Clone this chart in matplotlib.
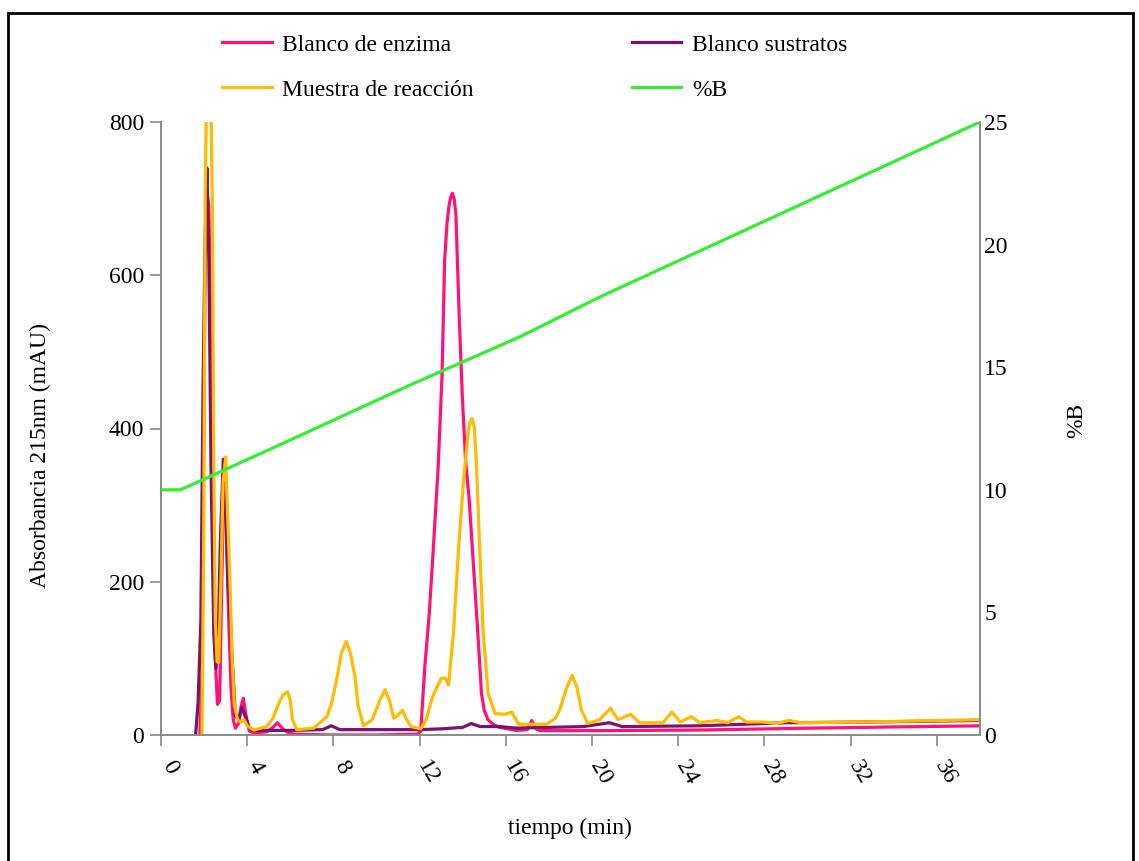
import matplotlib
matplotlib.use('Agg')
import matplotlib.pyplot as plt
import matplotlib.transforms as mtransforms
from matplotlib.patches import Rectangle

plt.rcParams['font.family'] = ['Liberation Serif', 'DejaVu Serif']

# Blanco de enzima (mAU vs min)
t_enz = [0, 1.8, 1.9, 1.97, 2.05, 2.15, 2.22, 2.3, 2.4, 2.5, 2.62, 2.72, 2.82, 2.92,
         3.02, 3.12, 3.25, 3.35, 3.45, 3.6, 3.72, 3.82, 3.95, 4.1, 4.3, 4.9, 5.2, 5.4,
         5.65, 5.9, 6.2, 8, 10, 11.9, 12.05, 12.24, 12.45, 12.63, 12.86, 13.04, 13.16,
         13.27, 13.36, 13.44, 13.52, 13.6, 13.68, 13.83, 13.98, 14.13, 14.3, 14.5, 14.7,
         14.87, 15.0, 15.17, 15.4, 15.7, 16.5, 17.0, 17.2, 17.4, 17.6, 20.3, 25, 29.6,
         34, 38]
a_enz = [-3, -3, 80, 350, 620, 705, 690, 560, 300, 110, 40, 45, 200, 330,
         300, 170, 60, 20, 9, 15, 38, 48, 25, 5, 3, 4, 10, 16,
         8, 3, 1, 0, 0, 1, 5, 89, 160, 241, 350, 470, 620,
         668, 690, 702, 707, 700, 681, 551, 442, 359, 307, 220, 133,
         54, 32, 20, 14, 10, 6, 7, 19, 8, 5.7, 5.7, 6.5, 8.7,
         10.5, 12]

# Blanco sustratos
t_sus = [0, 1.6, 1.72, 1.85, 1.95, 2.05, 2.13, 2.22, 2.32, 2.45, 2.55, 2.65, 2.75,
         2.89, 3.0, 3.1, 3.2, 3.3, 3.45, 3.6, 3.75, 3.9, 4.1, 4.3, 6, 7.5, 7.9, 8.3,
         10, 12, 13, 14, 14.4, 14.8, 15.7, 16.5, 19.6, 20.8, 21.4, 25, 29, 33, 38]
a_sus = [-2, -2, 42, 150, 450, 650, 740, 620, 350, 130, 87, 120, 250,
         360, 300, 200, 160, 100, 25, 20, 36, 25, 9, 6, 6, 7, 12, 7,
         7, 7, 8, 10, 15, 11, 11, 9, 11, 16, 11, 12, 16, 17, 19]

# Muestra de reacción
t_mue = [0, 1.9, 1.98, 2.05, 2.12, 2.2, 2.3, 2.38, 2.45, 2.52, 2.6, 2.68, 2.78, 2.88,
         3.0, 3.1, 3.2, 3.3, 3.4, 3.55, 3.7, 3.85, 4.0, 4.3, 4.9, 5.2, 5.4, 5.65, 5.87,
         6.0, 6.1, 6.3, 7.08, 7.7, 7.91, 8.15, 8.37, 8.6, 8.79, 9.0, 9.15, 9.4, 9.8,
         10.0, 10.16, 10.4, 10.6, 10.8, 11.0, 11.2, 11.4, 11.6, 12.05, 12.3, 12.6, 13.0,
         13.2, 13.34, 13.57, 13.8, 14.03, 14.25, 14.35, 14.44, 14.54, 14.64, 14.79, 14.95,
         15.18, 15.5, 15.96, 16.27, 16.6, 16.9, 17.9, 18.3, 18.5, 18.8, 19.08, 19.3, 19.5,
         19.8, 20.35, 20.86, 21.2, 21.8, 22.2, 23.3, 23.7, 24.1, 24.6, 25.0, 25.8, 26.3,
         26.8, 27.15, 27.9, 28.55, 29.15, 29.7, 32.7, 38]
a_mue = [-3, -3, 250, 700, 860, 870, 860, 700, 350, 150, 96, 94, 200, 330,
         363, 280, 200, 100, 40, 20, 17, 20, 12, 6.5, 11, 22, 37, 52, 56.5,
         45, 20, 7, 9, 24, 41, 72, 107, 122, 107, 76, 37, 12, 20,
         34, 46, 59, 45, 22, 26, 32, 20, 11, 8, 20, 50, 74,
         74, 65, 133, 241, 329, 394, 410, 413, 400, 350, 241, 133,
         54, 28, 27, 30, 14, 14, 14, 22, 33, 60, 78, 62, 33,
         15, 20, 35, 20, 27, 16, 16, 30, 17, 24, 16, 19, 16,
         24, 17, 17, 15, 19, 16, 17, 20]

# gradiente %B
t_b = [0, 0.9, 5.05, 11.55, 16.65, 20.35, 38]
pct_b = [10, 10, 11.65, 14.27, 16.24, 17.86, 25]

x_ticks = list(range(0, 37, 4))
y_ticks = [0, 200, 400, 600, 800]
y2_ticks = [0, 5, 10, 15, 20, 25]

c_enz = '#ff1177'
c_sus = '#7a1272'
c_mue = '#ffbb00'
c_b = '#33ee33'
grey = '#8a8a8a'
fs = 17

fig = plt.figure(figsize=(11.39, 8.61), dpi=100)
ax = fig.add_axes([161/1139, 1-735/861, (980-161)/1139, (735-122)/861])

l1, = ax.plot(t_enz, a_enz, color=c_enz, lw=2.3, label='Blanco de enzima')
l2, = ax.plot(t_sus, a_sus, color=c_sus, lw=2.3, label='Blanco sustratos')
l3, = ax.plot(t_mue, a_mue, color=c_mue, lw=2.3, label='Muestra de reacción')
ax.set_xlim(0, 38)
ax.set_ylim(0, 800)
ax.set_xticks(x_ticks)
ax.set_yticks(y_ticks)
ax.set_xticklabels([str(v) for v in x_ticks], rotation=-60, ha='center', fontsize=fs)
ax.set_yticklabels([str(v) for v in y_ticks], fontsize=fs)
ax.tick_params(axis='x', direction='out', length=8, width=1.2, color=grey, pad=8)
ax.tick_params(axis='y', direction='out', length=8, width=1.2, color=grey, pad=4)

# nudge the slanted time labels a little to the right
shift = mtransforms.ScaledTranslation(6/72, 0, fig.dpi_scale_trans)
for lab in ax.get_xticklabels():
    lab.set_transform(lab.get_transform() + shift)

ax2 = ax.twinx()
l4, = ax2.plot(t_b, pct_b, color=c_b, lw=2.3, label='%B')
ax2.set_ylim(0, 25)
ax2.set_yticks(y2_ticks)
ax2.set_yticklabels([str(v) for v in y2_ticks], fontsize=fs)
ax2.tick_params(axis='y', length=0, pad=3)

for a in (ax, ax2):
    a.spines['top'].set_visible(False)
    for s in ('left', 'right', 'bottom'):
        a.spines[s].set_color(grey)
        a.spines[s].set_linewidth(1.2)

fig.text(570/1139, 1-828/861, 'tiempo (min)', ha='center', va='center', fontsize=fs)
fig.text(40/1139, 1-455/861, 'Absorbancia 215nm (mAU)', rotation=90,
         ha='center', va='center', fontsize=fs)
fig.text(1077/1139, 1-420/861, '%B', rotation=90, ha='center', va='center', fontsize=fs)

fig.legend([l1, l3, l2, l4],
           ['Blanco de enzima', 'Muestra de reacción', 'Blanco sustratos', '%B'],
           ncol=2, loc='upper left', bbox_to_anchor=(222/1139, 1-34/861),
           frameon=False, fontsize=fs, handlelength=2.1, handletextpad=0.45,
           columnspacing=6.7, labelspacing=1.0, borderpad=0, borderaxespad=0)

fig.patches.append(Rectangle((8/1139, -0.01), (1133-8)/1139, 1.01-13/861,
                             transform=fig.transFigure, fill=False,
                             edgecolor='black', lw=2))

fig.savefig('out.png', dpi=100)
